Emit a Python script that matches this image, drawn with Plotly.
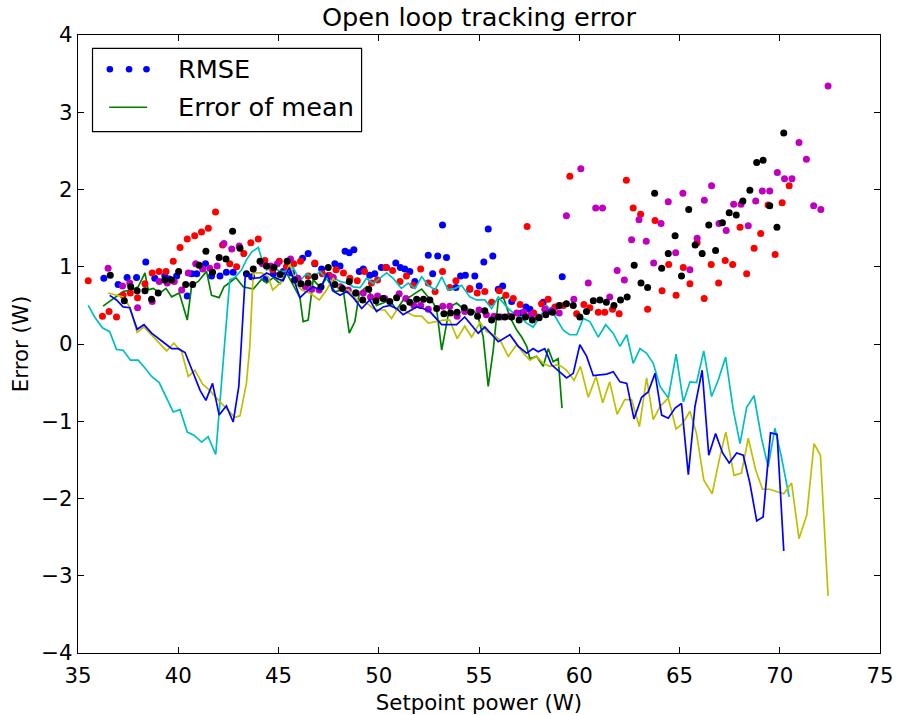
import plotly.graph_objects as go

# ---------------- data ----------------
# RMSE series (dots)
rmse_b_x = [36.29, 37.0, 37.45, 37.92, 38.38, 38.83, 39.33, 39.55, 39.92, 40.45, 40.67, 40.92, 41.36, 41.66, 42.08,
            42.40, 42.74, 43.66, 44.37, 44.74, 45.24, 45.65, 46.20, 46.48, 46.81, 47.15, 47.81, 48.07, 48.32, 48.53,
            48.76, 49.03, 49.23, 49.55, 49.80, 50.13, 50.38, 50.85, 51.08, 51.30, 51.55, 51.80, 52.47, 52.69, 52.94,
            53.18, 53.38, 53.85, 54.08, 54.32, 54.54, 54.79, 55.01, 55.24, 55.46, 55.69, 55.96, 56.18, 56.63, 57.13,
            57.34, 57.54, 58.20, 58.45, 59.15]
rmse_b_y = [0.85, 0.77, 0.86, 0.86, 1.06, 0.85, 0.88, 0.84, 0.88, 0.62, 0.91, 0.91, 1.04, 0.88, 0.88,
            0.93, 0.93, 0.87, 0.84, 0.91, 0.94, 0.92, 1.11, 1.17, 1.04, 0.97, 1.04, 1.01, 1.20, 1.18,
            1.22, 0.94, 0.97, 0.89, 0.91, 0.99, 0.99, 1.05, 0.99, 0.97, 0.94, 0.81, 1.15, 0.91, 1.14,
            1.54, 1.12, 0.73, 0.88, 0.89, 0.71, 0.88, 0.75, 1.06, 1.49, 1.14, 0.71, 0.75, 0.55, 0.40,
            0.48, 0.45, 0.54, 0.42, 0.87]

rmse_r_x = [35.51, 36.22, 36.55, 36.92, 37.25, 37.61, 37.97, 38.34, 38.70, 39.04, 39.39, 39.75, 40.09, 40.45, 40.82,
            41.16, 41.50, 41.86, 42.21, 42.57, 42.91, 43.27, 43.62, 43.99, 44.32, 44.71, 45.04, 45.39, 45.76, 46.10,
            46.48, 46.81, 47.19, 47.53, 47.87, 48.24, 48.56, 48.93, 49.29, 49.64, 49.94, 50.35, 50.69, 51.06, 51.38,
            51.72, 52.09, 52.47, 52.81, 53.18, 53.54, 53.85, 54.54, 54.91, 55.29, 55.63, 56.01, 56.34, 56.71, 57.05,
            57.40, 57.73, 58.12, 58.45, 58.79, 59.20, 59.53, 59.87, 60.23, 60.53, 60.95, 61.27, 61.66, 61.99, 62.35,
            62.69, 63.06, 63.41, 63.78, 64.13, 64.46, 64.83, 65.19, 65.52, 65.88, 66.23, 66.58, 66.95, 67.28, 67.65,
            68.02, 68.35, 68.72, 69.05, 69.42, 69.77, 70.12, 70.47]
rmse_r_y = [0.82, 0.36, 0.42, 0.35, 0.63, 0.66, 0.60, 0.78, 0.92, 0.94, 0.94, 1.07, 1.25, 1.36, 1.40,
            1.45, 1.50, 1.71, 1.28, 1.04, 1.00, 1.17, 1.31, 1.36, 1.08, 0.96, 1.07, 1.00, 1.04, 1.07,
            0.88, 1.05, 0.91, 0.89, 0.96, 0.92, 0.85, 0.82, 0.94, 0.79, 0.83, 0.99, 0.95, 0.81, 0.88,
            0.76, 0.97, 0.79, 0.68, 0.94, 0.73, 0.82, 0.72, 0.66, 0.68, 0.54, 0.69, 0.63, 0.59, 0.51,
            1.52, 0.40, 0.52, 0.58, 0.48, 0.50, 2.17, 0.39, 0.51, 0.47, 0.41, 0.41, 0.45, 0.39, 2.12,
            1.76, 1.68, 0.45, 1.60, 0.69, 1.03, 0.63, 0.99, 0.78, 1.31, 0.59, 1.03, 0.79, 1.08, 1.03,
            1.51, 0.91, 1.24, 1.43, 1.80, 1.16, 1.83, 2.05]

rmse_m_x = [36.50, 37.22, 37.58, 37.97, 38.70, 39.05, 39.45, 39.80, 40.17, 40.50, 40.87, 41.22, 41.57, 41.94, 42.28,
            42.67, 43.04, 44.20, 44.61, 44.94, 45.60, 45.97, 46.34, 46.66, 47.03, 47.73, 48.10, 48.48, 48.87, 49.23,
            49.59, 49.94, 50.30, 51.02, 51.35, 51.75, 52.09, 52.47, 53.19, 53.54, 53.91, 54.29, 55.00, 55.37, 55.74,
            56.08, 56.51, 56.88, 57.24, 57.58, 57.95, 58.28, 58.67, 59.00, 59.36, 59.73, 60.08, 60.45, 60.82, 61.16,
            61.52, 61.89, 62.25, 62.61, 62.98, 63.34, 63.71, 64.08, 64.44, 64.81, 65.17, 65.52, 65.88, 66.24, 66.60,
            66.97, 67.33, 67.70, 68.07, 68.43, 68.80, 69.13, 69.50, 69.88, 70.24, 70.61, 70.96, 71.33, 71.69, 72.05,
            72.41]
rmse_m_y = [0.98, 0.75, 0.79, 0.47, 0.55, 0.81, 0.79, 0.81, 0.70, 0.92, 1.04, 0.97, 0.98, 1.01, 1.30,
            1.23, 1.27, 1.04, 1.01, 1.04, 1.10, 0.85, 0.74, 0.71, 0.70, 0.86, 0.74, 0.70, 0.66, 0.66,
            0.61, 0.62, 0.59, 0.65, 0.59, 0.50, 0.50, 0.45, 0.49, 0.49, 0.36, 0.42, 0.44, 0.38, 0.36,
            0.35, 0.36, 0.40, 0.41, 0.38, 0.35, 0.45, 0.44, 0.40, 1.66, 0.58, 2.27, 0.79, 1.76, 1.76,
            0.61, 0.95, 0.83, 1.35, 1.61, 1.33, 1.05, 1.56, 1.84, 1.18, 1.95, 0.96, 1.37, 1.86, 2.05,
            1.56, 1.47, 1.81, 1.81, 1.53, 1.85, 1.98, 1.98, 2.22, 2.14, 2.14, 2.61, 2.39, 1.79, 1.74,
            3.34]

rmse_k_x = [36.61, 37.31, 37.63, 37.95, 38.34, 38.67, 39.00, 39.33, 39.67, 40.02, 40.37, 40.72, 41.04, 41.38, 41.71,
            42.04, 42.38, 42.71, 43.08, 43.40, 43.74, 44.08, 44.40, 44.77, 45.08, 45.43, 45.80, 46.12, 46.48, 46.81,
            47.12, 47.48, 47.81, 48.19, 48.53, 48.85, 49.20, 49.50, 49.86, 50.22, 50.55, 50.89, 51.22, 51.55, 51.89,
            52.23, 52.55, 52.89, 53.25, 53.58, 53.91, 54.26, 54.59, 54.93, 55.29, 55.63, 55.96, 56.29, 56.63, 57.00,
            57.32, 57.66, 58.00, 58.33, 58.67, 59.00, 59.36, 59.70, 60.03, 60.36, 60.70, 61.03, 61.35, 61.73, 62.06,
            62.39, 62.74, 63.08, 63.41, 63.76, 64.11, 64.44, 64.78, 65.10, 65.46, 65.78, 66.13, 66.46, 66.80, 67.14,
            67.48, 67.83, 68.16, 68.51, 68.85, 69.17, 69.50, 69.86, 70.20]
rmse_k_y = [0.89, 0.56, 0.74, 0.69, 0.69, 0.58, 0.66, 0.83, 0.83, 0.94, 0.77, 0.77, 1.02, 1.20, 0.93,
            1.12, 1.10, 1.46, 1.24, 0.91, 0.97, 1.07, 1.01, 0.99, 0.90, 1.07, 0.83, 0.78, 0.79, 0.87,
            0.74, 0.99, 0.77, 0.72, 0.81, 0.66, 0.57, 0.71, 0.56, 0.59, 0.55, 0.60, 0.47, 0.54, 0.58,
            0.58, 0.57, 0.46, 0.39, 0.40, 0.41, 0.47, 0.41, 0.36, 0.43, 0.31, 0.35, 0.35, 0.35, 0.31,
            0.35, 0.31, 0.34, 0.38, 0.41, 0.50, 0.52, 0.50, 0.35, 0.42, 0.56, 0.57, 0.54, 0.50, 0.57,
            0.61, 1.02, 0.79, 0.73, 1.95, 0.98, 1.17, 1.40, 0.88, 1.74, 1.28, 1.17, 1.54, 1.21, 1.57,
            1.70, 1.67, 1.85, 1.99, 2.35, 2.38, 1.79, 1.51, 2.73]

# Error of mean series (lines)
mean_g_x = [36.25, 37.25, 37.67, 38.00, 38.34, 38.50, 38.75, 39.09, 39.39, 39.67, 40.05, 40.45, 40.67, 41.00, 41.41,
            41.66, 42.04, 42.28, 42.54, 42.87, 43.24, 43.74, 44.16, 44.41, 44.74, 45.08, 45.40, 45.73, 46.07, 46.23,
            46.48, 46.73, 47.07, 47.40, 47.81, 48.23, 48.53, 48.81, 49.03, 49.39, 49.89, 50.22, 50.55, 50.89, 51.22,
            51.55, 52.14, 52.39, 52.72, 52.89, 53.14, 53.39, 53.54, 53.88, 54.21, 54.71, 54.96, 55.21, 55.46, 55.71,
            55.96, 56.21, 56.54, 56.88, 57.13, 57.38, 57.54, 57.87, 58.20, 58.45, 58.70, 58.95, 59.14]
mean_g_y = [0.49, 0.68, 0.70, 0.74, 0.92, 0.70, 0.72, 0.66, 0.72, 0.61, 0.66, 0.31, 0.76, 0.81, 0.94,
            0.63, 0.60, 0.74, 0.79, 0.86, 0.74, 0.71, 0.84, 0.79, 0.86, 0.78, 0.92, 0.76, 0.60, 0.29,
            0.31, 0.83, 0.74, 0.85, 0.68, 0.70, 0.14, 0.29, 0.66, 0.74, 0.50, 0.53, 0.57, 0.44, 0.57,
            0.61, 0.71, 0.63, 0.53, 0.44, -0.08, 0.27, 0.48, 0.53, 0.46, 0.44, 0.35, 0.09, -0.55, -0.08,
            0.57, 0.61, 0.35, 0.18, 0.09, -0.03, -0.19, -0.16, -0.29, -0.06, -0.23, -0.19, -0.83]

mean_c_x = [35.51, 35.83, 36.22, 36.58, 36.92, 37.25, 37.62, 38.00, 38.34, 38.67, 39.05, 39.39, 39.75, 40.09, 40.45,
            40.78, 41.17, 41.49, 41.87, 42.57, 42.82, 43.16, 43.40, 43.66, 43.99, 44.20, 44.41, 44.74, 45.08, 45.40,
            45.73, 46.07, 46.40, 46.73, 47.07, 47.40, 47.73, 48.07, 48.40, 48.73, 49.07, 49.39, 49.72, 50.39, 50.72,
            51.13, 51.47, 51.81, 52.14, 52.47, 52.81, 53.14, 53.46, 53.80, 54.13, 54.54, 54.88, 55.29, 55.63, 55.96,
            56.38, 56.71, 57.05, 57.38, 57.70, 58.04, 58.37, 58.70, 59.20, 59.53, 59.87, 60.20, 60.53, 60.95, 61.32,
            61.69, 62.03, 62.37, 62.69, 63.03, 63.36, 63.69, 64.03, 64.44, 64.83, 65.19, 65.52, 65.85, 66.21, 66.60,
            66.93, 67.30, 67.68, 68.02, 68.35, 68.72, 69.09, 69.42, 69.76, 70.08, 70.47]
mean_c_y = [0.50, 0.35, 0.21, 0.16, -0.07, -0.08, -0.21, -0.21, -0.31, -0.42, -0.50, -0.68, -0.88, -0.85, -1.14,
            -1.18, -1.27, -1.20, -1.43, 0.83, 0.86, 0.96, 1.09, 1.19, 1.25, 1.07, 0.96, 0.99, 0.94, 0.94,
            0.99, 0.82, 0.91, 0.86, 0.94, 0.84, 0.86, 0.81, 0.79, 0.74, 0.73, 0.85, 0.78, 0.92, 0.85,
            0.72, 0.79, 0.72, 0.87, 0.76, 0.70, 0.87, 0.70, 0.72, 0.76, 0.61, 0.57, 0.57, 0.46, 0.61,
            0.48, 0.40, 0.35, 0.27, 0.22, 0.35, 0.50, 0.40, 0.18, 0.12, 0.12, 0.33, 0.29, 0.09, 0.25,
            0.14, -0.03, 0.12, -0.25, -0.06, -0.12, -0.25, -0.55, -0.70, -0.13, -0.75, -0.49, -0.50, -0.09, -0.68,
            -0.47, -0.17, -0.85, -1.29, -0.82, -0.67, -1.22, -1.59, -1.09, -1.46, -1.98]

mean_y_x = [36.50, 36.92, 37.25, 37.58, 37.95, 38.29, 38.67, 39.09, 39.42, 39.78, 40.17, 40.50, 40.83, 41.22, 41.57,
            41.91, 42.28, 42.82, 43.08, 43.40, 43.57, 43.74, 44.16, 44.49, 44.71, 44.99, 45.27, 45.56, 45.87, 46.15,
            46.56, 47.03, 47.40, 47.73, 48.15, 48.48, 48.90, 49.31, 49.72, 50.00, 50.30, 50.64, 50.89, 51.13, 51.47,
            51.81, 52.14, 52.47, 52.81, 53.23, 53.54, 53.91, 54.29, 54.63, 55.05, 55.38, 55.71, 56.05, 56.46, 56.88,
            57.22, 57.54, 57.87, 58.20, 58.53, 58.87, 59.11, 59.37, 59.74, 60.06, 60.45, 60.84, 61.17, 61.52, 61.89,
            62.27, 62.61, 63.00, 63.36, 63.69, 64.03, 64.44, 64.83, 65.15, 65.52, 65.85, 66.21, 66.63, 66.98, 67.31,
            67.72, 68.09, 68.43, 68.80, 69.14, 69.50, 69.84, 70.20, 70.59, 70.96, 71.35, 71.71, 72.03, 72.41]
mean_y_y = [0.66, 0.63, 0.61, 0.48, 0.15, 0.22, 0.12, 0.01, -0.09, 0.01, -0.10, -0.42, -0.34, -0.52, -0.60,
            -0.70, -0.80, -0.95, -0.93, -0.51, -0.03, 0.92, 0.92, 0.87, 0.70, 0.76, 0.83, 1.04, 0.78, 0.70,
            0.66, 0.57, 0.70, 0.85, 0.70, 0.70, 0.57, 0.55, 0.46, 0.44, 0.44, 0.33, 0.44, 0.48, 0.40,
            0.36, 0.36, 0.27, 0.29, 0.31, 0.31, 0.07, 0.23, 0.09, 0.28, 0.16, 0.12, 0.05, -0.16, -0.01,
            -0.12, -0.21, -0.16, -0.25, -0.29, -0.27, -0.29, -0.34, -0.47, -0.29, -0.69, -0.42, -0.76, -0.49, -0.91,
            -0.72, -0.72, -1.07, -0.44, -0.98, -0.81, -0.70, -1.10, -1.03, -0.87, -1.16, -1.76, -1.94, -1.50, -1.14,
            -1.70, -1.67, -1.22, -1.63, -1.88, -1.88, -1.91, -1.94, -1.80, -2.52, -2.21, -1.29, -1.44, -3.26]

mean_b_x = [36.58, 36.92, 37.25, 37.58, 37.95, 38.29, 38.67, 39.09, 39.42, 39.67, 40.00, 40.34, 40.75, 41.09, 41.38,
            41.71, 42.04, 42.40, 42.74, 43.02, 43.35, 43.74, 44.08, 44.41, 44.71, 44.99, 45.23, 45.53, 45.73, 46.07,
            46.40, 46.73, 47.07, 47.43, 47.70, 48.07, 48.40, 48.73, 49.15, 49.55, 49.89, 50.22, 50.55, 50.89, 51.21,
            51.89, 52.21, 52.55, 53.14, 53.88, 54.29, 54.54, 54.96, 55.29, 55.96, 56.54, 56.96, 57.38, 57.70, 57.95,
            58.28, 58.62, 58.95, 59.37, 59.70, 60.03, 60.37, 60.70, 61.37, 61.70, 62.03, 62.37, 62.73, 63.11, 63.44,
            63.78, 64.11, 64.44, 64.78, 65.10, 65.44, 65.77, 66.13, 66.46, 66.80, 67.15, 67.48, 67.85, 68.18, 68.51,
            68.85, 69.17, 69.54, 69.87, 70.20]
mean_b_y = [0.63, 0.57, 0.48, 0.47, 0.19, 0.25, 0.14, 0.05, -0.01, -0.06, -0.06, -0.11, -0.38, -0.60, -0.73,
            -0.51, -0.92, -0.80, -1.01, -0.55, 0.92, 0.85, 0.86, 0.92, 0.88, 0.84, 0.82, 0.99, 0.86, 0.60,
            0.68, 0.74, 0.70, 0.92, 0.69, 0.63, 0.68, 0.60, 0.46, 0.57, 0.42, 0.48, 0.50, 0.46, 0.38,
            0.48, 0.46, 0.42, 0.25, 0.25, 0.35, 0.27, 0.14, 0.22, 0.03, 0.12, -0.03, -0.12, -0.06, -0.10,
            -0.06, -0.27, -0.34, -0.44, -0.38, -0.01, -0.16, -0.41, -0.39, -0.36, -0.49, -0.51, -0.97, -0.69, -0.62,
            -0.38, -0.92, -0.96, -0.83, -0.77, -1.69, -0.81, -0.34, -1.44, -1.16, -1.41, -1.54, -1.41, -1.44, -1.80,
            -2.29, -2.24, -1.15, -1.17, -2.68]

x_ticks = [35, 40, 45, 50, 55, 60, 65, 70, 75]
y_ticks = [-4, -3, -2, -1, 0, 1, 2, 3, 4]
legend_labels = ["RMSE", "Error of mean"]

# ---------------- styling ----------------
FONT = "DejaVu Sans"
BASE = 21.3
LARGE = 25.6
C_B, C_G, C_R, C_C, C_M, C_Y, C_K = "#0000ff", "#008000", "#ff0000", "#00bfbf", "#bf00bf", "#bfbf00", "#000000"
MS = 7
LW = 1.7

fig = go.Figure()

def dots(x, y, c):
    fig.add_trace(go.Scatter(x=x, y=y, mode="markers", showlegend=False,
                             marker=dict(color=c, size=MS, line=dict(width=0))))

def line(x, y, c):
    fig.add_trace(go.Scatter(x=x, y=y, mode="lines", showlegend=False,
                             line=dict(color=c, width=LW)))

dots(rmse_b_x, rmse_b_y, C_B)
line(mean_g_x, mean_g_y, C_G)
dots(rmse_r_x, rmse_r_y, C_R)
line(mean_c_x, mean_c_y, C_C)
dots(rmse_m_x, rmse_m_y, C_M)
line(mean_y_x, mean_y_y, C_Y)
dots(rmse_k_x, rmse_k_y, C_K)
line(mean_b_x, mean_b_y, C_B)

axis_common = dict(showgrid=False, zeroline=False, showline=True, linecolor="black", linewidth=1.3,
                   mirror="ticks", ticks="inside", ticklen=6, tickwidth=1.1, tickcolor="black",
                   automargin=False,
                   tickfont=dict(family=FONT, size=BASE, color="black"))

fig.update_xaxes(range=[35, 75], tickvals=x_ticks, ticktext=[str(v) for v in x_ticks],
                 ticklabelstandoff=3,
                 title=dict(text="Setpoint power (W)", font=dict(family=FONT, size=BASE, color="black"), standoff=14),
                 **axis_common)
fig.update_yaxes(range=[-4, 4], tickvals=y_ticks, ticktext=[("\u2212" + str(-v)) if v < 0 else str(v) for v in y_ticks],
                 title=dict(text="Error (W)", font=dict(family=FONT, size=BASE, color="black"), standoff=6),
                 **axis_common)

# custom legend (matplotlib style: three dots + a line sample)
shapes = [dict(type="rect", xref="paper", yref="paper", x0=0.0181, x1=0.3536, y0=0.8437, y1=0.9785,
               line=dict(color="black", width=1.2), fillcolor="white", layer="above")]
for px in [0.0397, 0.0637, 0.0854]:
    shapes.append(dict(type="circle", xref="paper", yref="paper", xsizemode="pixel", ysizemode="pixel",
                       xanchor=px, yanchor=0.9446, x0=-3.3, x1=3.3, y0=-3.3, y1=3.3,
                       fillcolor=C_B, line=dict(width=0), layer="above"))
shapes.append(dict(type="line", xref="paper", yref="paper", x0=0.0388, x1=0.0862, y0=0.8831, y1=0.8831,
                   line=dict(color=C_G, width=LW), layer="above"))

annotations = [
    dict(text=legend_labels[0], xref="paper", yref="paper", x=0.1228, y=0.9446, xanchor="left", yanchor="middle",
         showarrow=False, font=dict(family=FONT, size=LARGE, color="black")),
    dict(text=legend_labels[1], xref="paper", yref="paper", x=0.1228, y=0.8831, xanchor="left", yanchor="middle",
         showarrow=False, font=dict(family=FONT, size=LARGE, color="black")),
]

fig.update_layout(
    width=898, height=715,
    margin=dict(l=78, r=18, t=35, b=62),
    paper_bgcolor="white", plot_bgcolor="white",
    title=dict(text="Open loop tracking error", x=0.5, xref="paper", xanchor="center",
               y=1 - 17.5 / 715, yref="container", yanchor="middle",
               font=dict(family=FONT, size=LARGE, color="black")),
    shapes=shapes, annotations=annotations, showlegend=False,
)

fig.write_html("out.html")
